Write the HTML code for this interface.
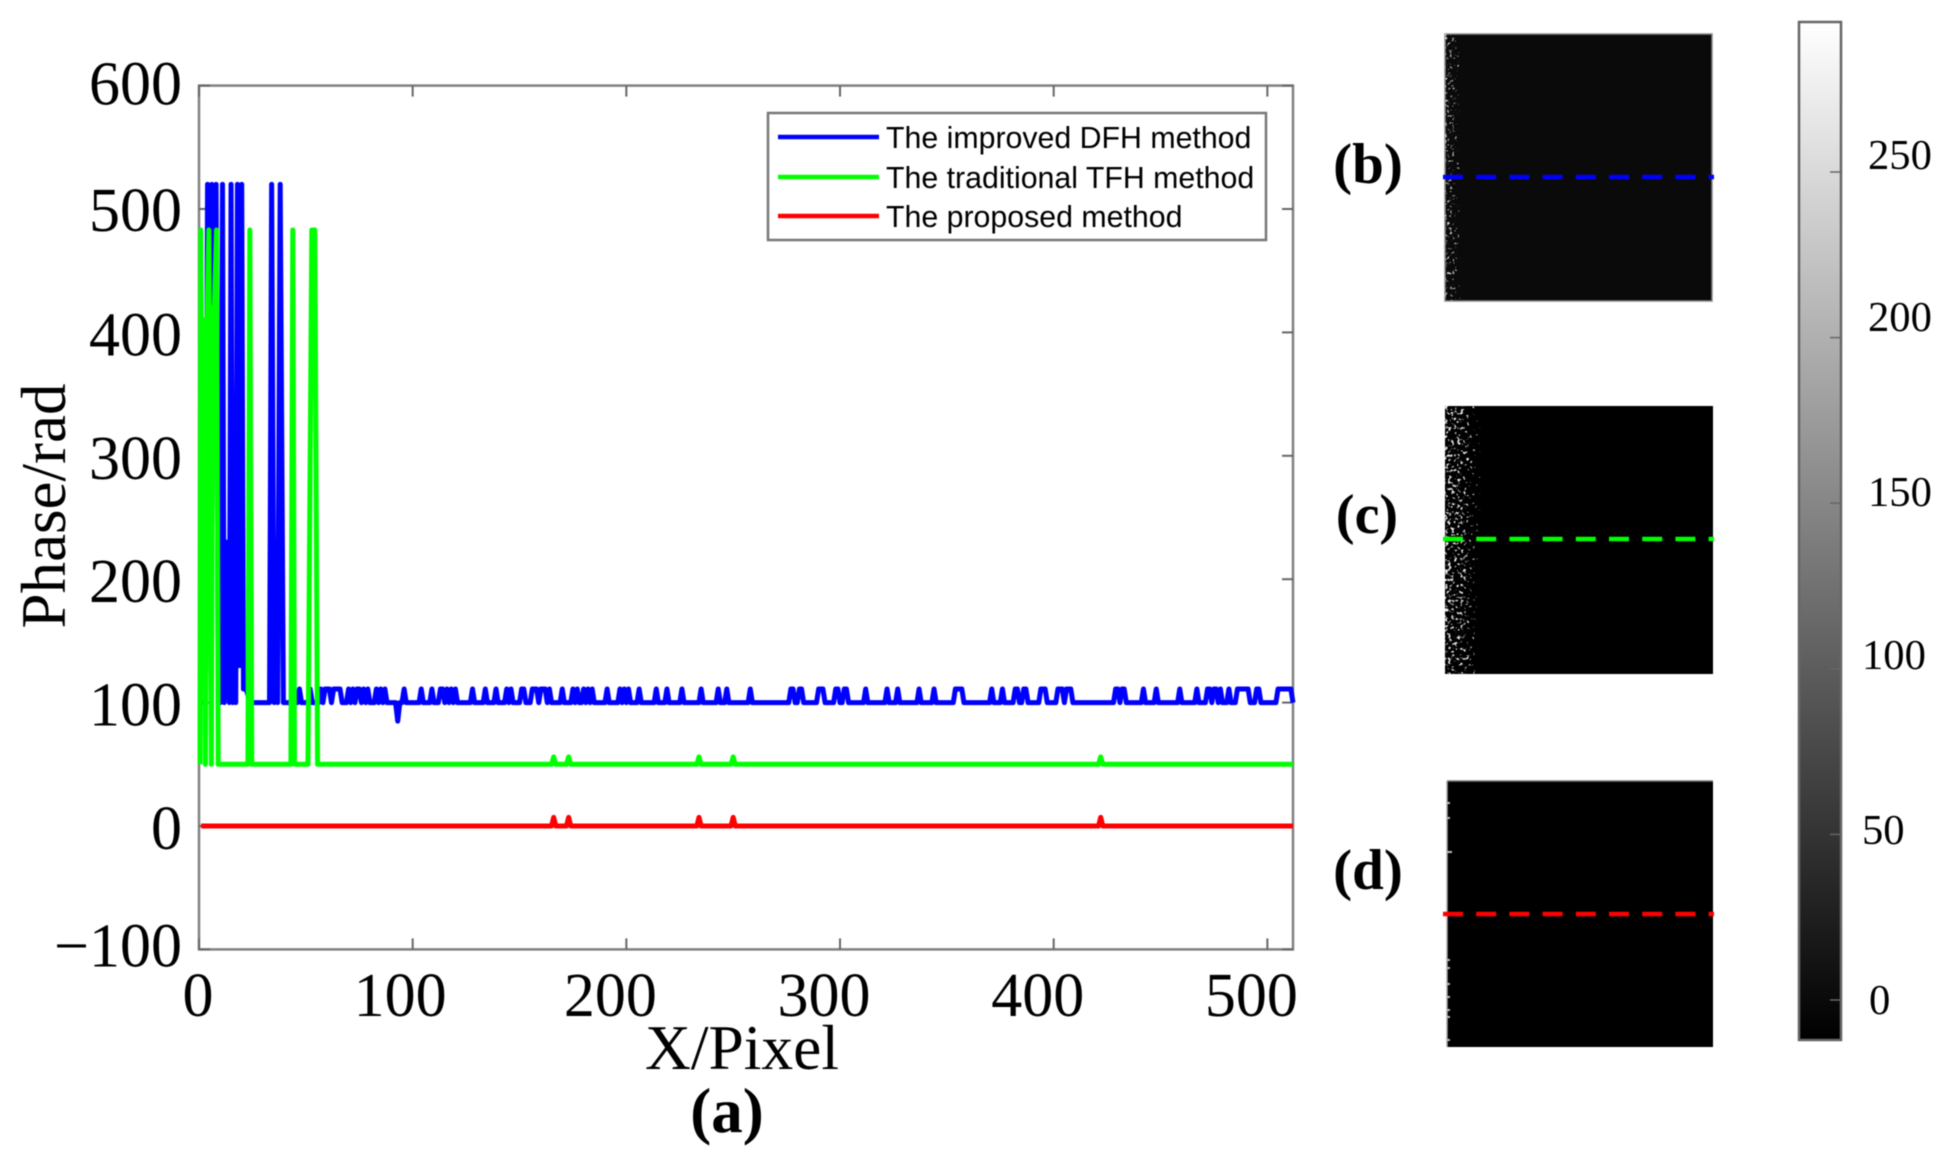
<!DOCTYPE html>
<html lang="en">
<head>
<meta charset="utf-8">
<title>Phase comparison figure</title>
<style>
  html, body { margin: 0; padding: 0; background: #fff; width: 1940px; height: 1160px; overflow: hidden; }
  svg { display: block; filter: blur(0.55px); }
  .serif { font-family: "Liberation Serif", "Times New Roman", serif; fill: #000; }
  .sans { font-family: "Liberation Sans", Arial, sans-serif; fill: #000; }
</style>
</head>
<body>
<svg id="figure" xmlns="http://www.w3.org/2000/svg" width="1940" height="1160" viewBox="0 0 1940 1160">
  <defs>
    <linearGradient id="cbarGrad" x1="0" y1="0" x2="0" y2="1">
      <stop offset="0" stop-color="#ffffff"/>
      <stop offset="1" stop-color="#000000"/>
    </linearGradient>
    <linearGradient id="fade" x1="0" y1="0" x2="1" y2="0">
      <stop offset="0" stop-color="#fff" stop-opacity="1"/>
      <stop offset="0.55" stop-color="#fff" stop-opacity="0.75"/>
      <stop offset="1" stop-color="#fff" stop-opacity="0"/>
    </linearGradient>
    <filter id="speckleC" x="0" y="0" width="100%" height="100%" color-interpolation-filters="sRGB">
      <feTurbulence type="fractalNoise" baseFrequency="0.33" numOctaves="2" seed="7" result="n"/>
      <feColorMatrix in="n" type="matrix" values="0 0 0 0 1  0 0 0 0 1  0 0 0 0 1  1 0 0 0 0" result="na"/>
      <feComposite in="na" in2="SourceGraphic" operator="arithmetic" k1="0" k2="1" k3="0.2" k4="-0.74" result="a"/>
      <feComponentTransfer in="a" result="t"><feFuncA type="linear" slope="9" intercept="0"/></feComponentTransfer>
      <feFlood flood-color="#e8e8e8" result="f"/>
      <feComposite in="f" in2="t" operator="in"/>
    </filter>
    <filter id="speckleB" x="0" y="0" width="100%" height="100%" color-interpolation-filters="sRGB">
      <feTurbulence type="fractalNoise" baseFrequency="0.4" numOctaves="2" seed="19" result="n"/>
      <feColorMatrix in="n" type="matrix" values="0 0 0 0 1  0 0 0 0 1  0 0 0 0 1  1 0 0 0 0" result="na"/>
      <feComposite in="na" in2="SourceGraphic" operator="arithmetic" k1="0" k2="1" k3="0.14" k4="-0.72" result="a"/>
      <feComponentTransfer in="a" result="t"><feFuncA type="linear" slope="9" intercept="0"/></feComponentTransfer>
      <feFlood flood-color="#c8c8c8" result="f"/>
      <feComposite in="f" in2="t" operator="in"/>
    </filter>
  </defs>

  <rect x="0" y="0" width="1940" height="1160" fill="#fff"/>

  <g id="axes-layer"></g>
  <g id="series-layer"></g>

  <text class="serif" font-size="63" text-anchor="middle" transform="translate(65 506) rotate(-90)">Phase/rad</text>
  <text class="serif" font-size="63.5" text-anchor="middle" x="742" y="1069">X/Pixel</text>
  <text class="serif" font-size="63" font-weight="bold" text-anchor="middle" x="727" y="1132">(a)</text>

  <g>
    <rect x="768" y="113" width="498" height="127" fill="#fff" stroke="#777" stroke-width="2.5"/>
    <line x1="778" x2="879" y1="137" y2="137" stroke="#0000ff" stroke-width="4.5"/>
    <text class="sans" font-size="30.3" x="886" y="148">The improved DFH method</text>
    <line x1="778" x2="879" y1="177" y2="177" stroke="#00ff00" stroke-width="4.5"/>
    <text class="sans" font-size="30.3" x="886" y="188">The traditional TFH method</text>
    <line x1="778" x2="879" y1="216" y2="216" stroke="#ff0000" stroke-width="4.5"/>
    <text class="sans" font-size="30.3" x="886" y="227">The proposed method</text>
  </g>

  <!-- Panel b -->
  <g>
    <rect x="1445" y="34" width="267" height="267" fill="#0a0a0a" stroke="#888" stroke-width="1.5"/>
    <rect x="1445" y="34" width="15" height="267" fill="url(#fade)" filter="url(#speckleB)"/>
    <line x1="1443" x2="1714" y1="177" y2="177" stroke="#0000ff" stroke-width="4.5" stroke-dasharray="20 13.2"/>
    <text class="serif" font-size="57" font-weight="bold" text-anchor="middle" x="1368" y="183">(b)</text>
  </g>

  <!-- Panel c -->
  <g>
    <rect x="1445" y="406" width="268" height="268" fill="#000"/>
    <rect x="1445" y="406" width="35" height="268" fill="url(#fade)" filter="url(#speckleC)"/>
    <line x1="1443" x2="1714" y1="539" y2="539" stroke="#00ff00" stroke-width="4.5" stroke-dasharray="20 13.2"/>
    <text class="serif" font-size="56" font-weight="bold" text-anchor="middle" x="1367" y="533">(c)</text>
  </g>

  <!-- Panel d -->
  <g>
    <rect x="1447" y="781" width="266" height="266" fill="#000"/>
    <line x1="1447" x2="1713" y1="781" y2="781" stroke="#777" stroke-width="1.5"/>
    <line x1="1447" x2="1447" y1="781" y2="1047" stroke="#aaa" stroke-width="1.5"/>
    <g fill="#bbb">
      <rect x="1447" y="802" width="3" height="2"/><rect x="1447" y="817" width="3" height="2"/>
      <rect x="1447" y="851" width="5" height="2"/><rect x="1447" y="959" width="3" height="2"/>
      <rect x="1447" y="967" width="3" height="2"/><rect x="1447" y="983" width="3" height="2"/>
      <rect x="1447" y="996" width="3" height="2"/><rect x="1447" y="1009" width="3" height="2"/>
      <rect x="1447" y="1016" width="3" height="2"/><rect x="1447" y="1039" width="3" height="2"/>
    </g>
    <line x1="1443" x2="1714" y1="914" y2="914" stroke="#ff0000" stroke-width="4.5" stroke-dasharray="20 13.2"/>
    <text class="serif" font-size="57" font-weight="bold" text-anchor="middle" x="1368" y="889">(d)</text>
  </g>

  <!-- Colorbar -->
  <g id="cbar-layer">
    <rect x="1799" y="22" width="42" height="1018" fill="url(#cbarGrad)" stroke="#666" stroke-width="2.5"/>
  </g>
  <g class="serif" font-size="42.6">
    <text class="serif" x="1868" y="169">250</text>
    <text class="serif" x="1868" y="331">200</text>
    <text class="serif" x="1868" y="506">150</text>
    <text class="serif" x="1862" y="669">100</text>
    <text class="serif" x="1862" y="844">50</text>
    <text class="serif" x="1869" y="1014">0</text>
  </g>
</svg>

<script>
// ---- chart data ----
const xTicks = [0, 100, 200, 300, 400, 500];
const yTicks = [-100, 0, 100, 200, 300, 400, 500, 600];
const colorbarTicks = [0, 50, 100, 150, 200, 250];

// blue series, left part (explicit vertices)
const blueHeadX = [1, 3, 4, 5, 6, 7, 8, 9, 9.5, 10, 11, 11.8, 13, 14.2, 15, 15.8, 16.5, 17.2, 18, 19, 20, 20.8, 22, 24, 33, 34, 35.2, 36, 36.8, 38, 39.5, 41];
const blueHeadY = [100, 100, 520, 300, 520, 300, 520, 100, 230, 100, 520, 100, 230, 100, 520, 100, 230, 100, 520, 130, 520, 111, 111, 100, 100, 520, 100, 230, 100, 520, 100, 100];

// blue series, remaining part: pixels that step up to the upper level
const blueBaseValue = 100;
const blueHighValue = 111;
const blueHighX = [47,52,57,59,60,61,63,64,65,66,70,72,74,75,77,79,83,85,87,96,104,109,113,114,116,118,120,128,134,139,144,146,151,152,156,157,158,160,161,162,164,170,175,177,180,182,184,191,197,199,201,206,214,219,226,235,243,247,258,277,278,281,282,290,291,292,298,299,302,303,312,322,327,337,344,354,355,356,357,371,376,382,383,386,387,394,395,396,402,403,404,406,407,408,429,430,432,433,442,448,459,467,472,473,475,476,478,482,486,487,488,489,490,491,495,496,505,506,507,508,509,510,511];
const blueDipX = [93];
const blueDipY = [85];

// green series, left part (explicit vertices)
const greenHeadX = [0.5, 0.8, 1.8, 2.4, 3, 3.8, 4.6, 5.8, 6.4, 7.2, 8.2, 9, 22.9, 23.8, 24.7, 43, 43.9, 44.7, 51, 52.8, 54.2, 55.5];
const greenHeadY = [50, 483, 120, 410, 50, 410, 483, 50, 420, 420, 483, 50, 50, 483, 50, 50, 483, 50, 50, 483, 483, 50];

// green series baseline and small peaks
const greenBaseValue = 50;
const greenPeakX = [166, 173, 234, 250, 422];
const greenPeakY = [56, 56, 56, 56, 56];

// red series baseline and small peaks
const redBaseValue = 0;
const redPeakX = [166, 173, 234, 250, 422];
const redPeakY = [7, 7, 7, 7, 7];

const seriesEndX = 512;

// ---- axis functions ----
function xScale(v) { return 199 + (v / 512) * 1094; }
function yScale(v) { return 826 - v * 1.234; }
function cbarScale(v) { return 1000 - v * 3.312; }

const NS = 'http://www.w3.org/2000/svg';
const axesLayer = document.getElementById('axes-layer');
const seriesLayer = document.getElementById('series-layer');
const cbarLayer = document.getElementById('cbar-layer');

function line(x1, y1, x2, y2, color, width) {
  const el = document.createElementNS(NS, 'line');
  el.setAttribute('x1', x1);
  el.setAttribute('y1', y1);
  el.setAttribute('x2', x2);
  el.setAttribute('y2', y2);
  el.setAttribute('stroke', color);
  el.setAttribute('stroke-width', width);
  return el;
}

function label(text, x, y, anchor) {
  const el = document.createElementNS(NS, 'text');
  el.setAttribute('class', 'serif');
  el.setAttribute('font-size', '62');
  el.setAttribute('x', x);
  el.setAttribute('y', y);
  el.setAttribute('text-anchor', anchor);
  el.textContent = text;
  return el;
}

// ---- axes ----
const frame = document.createElementNS(NS, 'rect');
frame.setAttribute('x', xScale(0));
frame.setAttribute('y', yScale(600));
frame.setAttribute('width', xScale(512) - xScale(0));
frame.setAttribute('height', yScale(-100) - yScale(600));
frame.setAttribute('fill', 'none');
frame.setAttribute('stroke', '#808080');
frame.setAttribute('stroke-width', '2.5');


axesLayer.appendChild(frame);

xTicks.forEach(function (v) {
  const px = xScale(v);
  const bottom = line(px, yScale(-100), px, yScale(-100) - 11, '#666', 2);
  
  
  axesLayer.appendChild(bottom);
  const top = line(px, yScale(600), px, yScale(600) + 11, '#666', 2);
  
  
  axesLayer.appendChild(top);
  const nudge = v === 0 ? -1 : (v === 100 ? -12.5 : -16);
  const t = label(String(v), px + nudge, 1016, 'middle');
  
  
  axesLayer.appendChild(t);
});

yTicks.forEach(function (v) {
  const py = yScale(v);
  const left = line(xScale(0), py, xScale(0) + 11, py, '#666', 2);
  
  
  axesLayer.appendChild(left);
  const right = line(xScale(512), py, xScale(512) - 11, py, '#666', 2);
  
  
  axesLayer.appendChild(right);
  const shift = v === 600 ? -2 : (v === -100 ? -4 : (v === 500 ? 1 : 2));
  const t = label((v < 0 ? '\u2212' + Math.abs(v) : String(v)), 182, py + shift + 21, 'end');
  
  
  axesLayer.appendChild(t);
});

// ---- series ----
function drawSeries(xs, ys, color) {
  let d = '';
  for (let i = 0; i < xs.length; i++) {
    d += (i === 0 ? 'M' : 'L') + xScale(xs[i]).toFixed(2) + ' ' + yScale(ys[i]).toFixed(2);
  }
  const path = document.createElementNS(NS, 'path');
  path.setAttribute('d', d);
  path.setAttribute('fill', 'none');
  path.setAttribute('stroke', color);
  path.setAttribute('stroke-width', '5');
  path.setAttribute('stroke-linejoin', 'round');
  return path;
}

// blue
const blueXs = blueHeadX.slice();
const blueYs = blueHeadY.slice();
for (let x = blueHeadX[blueHeadX.length - 1] + 1; x <= seriesEndX; x++) {
  const dip = blueDipX.indexOf(x);
  blueXs.push(x);
  if (dip >= 0) {
    blueYs.push(blueDipY[dip]);
  } else if (blueHighX.indexOf(x) >= 0) {
    blueYs.push(blueHighValue);
  } else {
    blueYs.push(blueBaseValue);
  }
}
const bluePath = drawSeries(blueXs, blueYs, '#0000ff');


seriesLayer.appendChild(bluePath);

// green
const greenXs = greenHeadX.slice();
const greenYs = greenHeadY.slice();
for (let x = Math.ceil(greenHeadX[greenHeadX.length - 1]) + 1; x <= seriesEndX; x++) {
  const peak = greenPeakX.indexOf(x);
  greenXs.push(x);
  greenYs.push(peak >= 0 ? greenPeakY[peak] : greenBaseValue);
}
const greenPath = drawSeries(greenXs, greenYs, '#00ff00');


seriesLayer.appendChild(greenPath);

// red
const redXs = [];
const redYs = [];
for (let x = 1; x <= seriesEndX; x++) {
  const peak = redPeakX.indexOf(x);
  redXs.push(x);
  redYs.push(peak >= 0 ? redPeakY[peak] : redBaseValue);
}
const redPath = drawSeries(redXs, redYs, '#ff0000');


seriesLayer.appendChild(redPath);

// ---- colorbar ticks ----
colorbarTicks.forEach(function (v) {
  const py = cbarScale(v);
  const right = line(1841, py, 1830, py, '#666', 1.5);
  
  
  cbarLayer.appendChild(right);
});
</script>
</body>
</html>
